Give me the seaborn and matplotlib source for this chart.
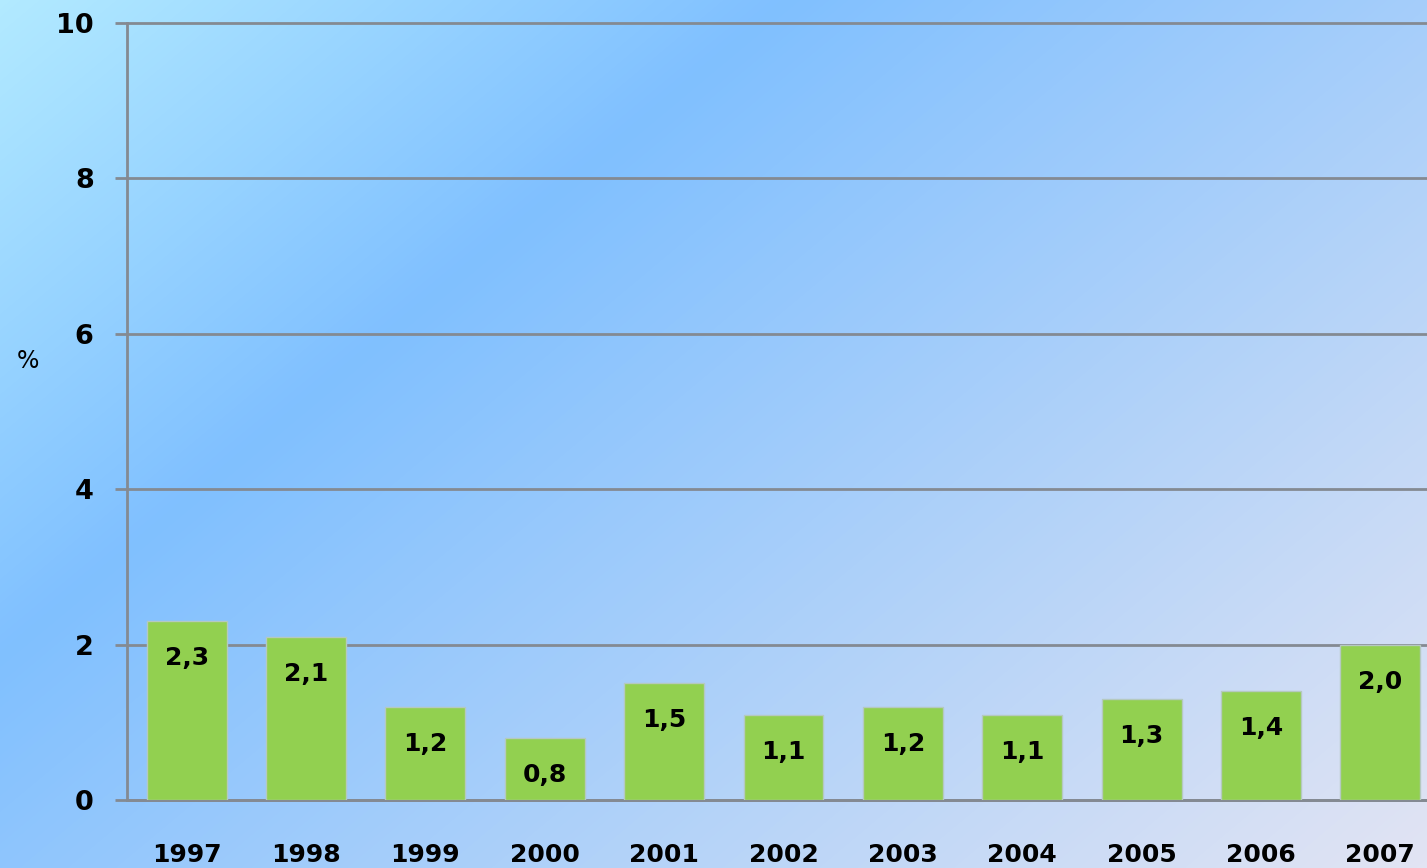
import numpy as np
import pandas as pd
import seaborn as sns
import matplotlib.pyplot as plt
from matplotlib.colors import LinearSegmentedColormap

years = ['1997', '1998', '1999', '2000', '2001', '2002', '2003', '2004', '2005', '2006', '2007']
values = [2.3, 2.1, 1.2, 0.8, 1.5, 1.1, 1.2, 1.1, 1.3, 1.4, 2.0]
y_ticks = [0, 2, 4, 6, 8, 10]

sns.set_theme(style='white')
plt.rcParams['font.family'] = ['DejaVu Sans']

fig = plt.figure(figsize=(14.27, 8.68), dpi=100)

# diagonal gradient background
bg = fig.add_axes([0, 0, 1, 1], zorder=-10)
W, H = 1427, 868
xx, yy = np.meshgrid(np.arange(W), np.arange(H))
s = (xx / W) / 0.547 + (yy / H) / 0.75
s = s / s.max()
cmap = LinearSegmentedColormap.from_list(
    'bg', [(0, (178/255, 234/255, 1.0)), (1/3.16, (128/255, 192/255, 1.0)),
           (1, (226/255, 228/255, 243/255))])
bg.imshow(s, cmap=cmap, aspect='auto', extent=[0, 1, 0, 1], origin='upper')
bg.axis('off')

ax = fig.add_axes([127/1427, 1 - 800/868, 1313/1427, 777/868])
ax.set_facecolor('none')

df = pd.DataFrame({'year': years, 'value': values})
sns.barplot(data=df, x='year', y='value', color='#92D050', saturation=1,
            width=0.67, edgecolor='#B5C9C0', linewidth=1, ax=ax, zorder=3)

for i, v in enumerate(values):
    ax.annotate(f'{v:.1f}'.replace('.', ','), (i, v), xytext=(0, -37),
                textcoords='offset pixels', ha='center', va='center',
                fontsize=18, fontweight='bold', color='black', zorder=4)

ax.set_ylim(0, 10)
ax.set_xlim(-0.5, len(years) - 0.5)
ax.set_yticks(y_ticks)
ax.set_yticklabels([str(t) for t in y_ticks], fontsize=19.5, fontweight='bold')
ax.set_xticks(range(len(years)))
ax.set_xticklabels(years, fontsize=18, fontweight='bold')
ax.set_xticks(np.arange(-0.5, len(years), 1), minor=True)

ax.grid(axis='y', color='#848A92', linewidth=2, zorder=1)
ax.grid(axis='x', visible=False)
for g in ax.get_ygridlines():
    g.set_clip_on(False)

ax.tick_params(axis='x', which='major', length=0, pad=31, labelcolor='black')
ax.tick_params(axis='x', which='minor', length=7, width=2, color='#848A92', direction='out')
ax.tick_params(axis='y', length=9, width=2, color='#848A92', pad=15, left=True,
               labelcolor='black')

for side in ['top', 'right']:
    ax.spines[side].set_visible(False)
for side in ['left', 'bottom']:
    ax.spines[side].set_color('#848A92')
    ax.spines[side].set_linewidth(2)

ax.set_xlabel('')
ax.set_ylabel('')
fig.text(28/1427, 1 - 361/868, '%', fontsize=17, ha='center', va='center', color='black')

plt.savefig('out.png', dpi=100)
plt.close()
